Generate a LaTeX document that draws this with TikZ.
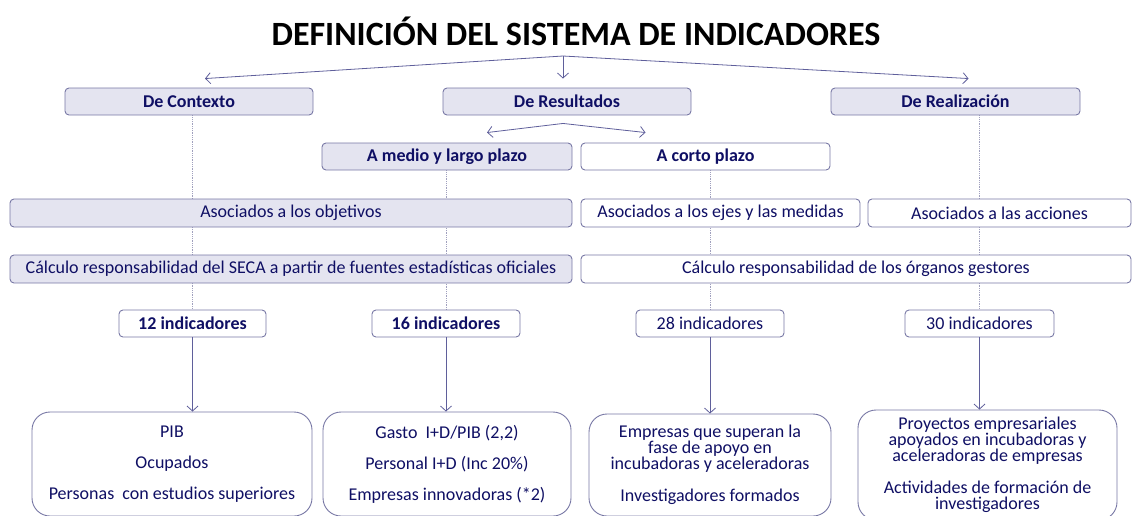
\documentclass[tikz,border=0pt]{standalone}
\usepackage{fontspec}
\setmainfont{Carlito}
\usepackage{tikz}
\usetikzlibrary{arrows.meta,positioning,calc,backgrounds}
\definecolor{navy}{RGB}{15,15,100}
\definecolor{boxline}{RGB}{120,120,165}
\definecolor{boxfill}{RGB}{228,228,240}
\definecolor{arrowblue}{RGB}{95,95,155}
\definecolor{dotgray}{RGB}{160,160,190}

\begin{document}
\begin{tikzpicture}[x=1pt,y=-1pt,
        box/.style={draw=boxline, line width=0.9pt, rounded corners=4pt, minimum height=27pt, inner sep=0pt, text=navy, font=\fontsize{18}{19}\selectfont},
        grey/.style={box, fill=boxfill},
        plain/.style={box, fill=white},
        heavy/.style={font=\fontsize{18}{19}\selectfont\bfseries},
        big/.style={draw=boxline, line width=0.9pt, rounded corners=18pt, fill=white, align=center, inner sep=0pt, text=navy, font=\fontsize{18}{16}\selectfont},
        arr/.style={-{Straight Barb[length=5pt,width=11pt]}, arrowblue, line width=0.8pt},
        link/.style={densely dotted, dotgray, line width=0.8pt}]
        \useasboundingbox (0,0) rectangle (1132,515);
        \node[font=\fontsize{34}{34}\selectfont\bfseries] (title) at (576,31) {DEFINICIÓN DEL SISTEMA DE INDICADORES};
        \node[grey, heavy, minimum width=248pt] (ctx) at (189,101.5) {De Contexto};
        \node[grey, heavy, minimum width=248pt] (res) at (567,101.5) {De Resultados};
        \node[grey, heavy, minimum width=249pt] (rea) at (955.5,101.5) {De Realización};
        \node[grey, heavy, minimum width=250pt] (medio) at (447,156.5) {A medio y largo plazo};
        \node[plain, heavy, minimum width=249pt] (corto) at (705.5,156.5) {A corto plazo};
        \node[grey, minimum width=562pt, minimum height=28pt] (objet) at (291,213) {Asociados a los objetivos};
        \node[plain, minimum width=279pt, minimum height=28pt] (ejes) at (720.5,213) {Asociados a los ejes y las medidas};
        \node[plain, minimum width=263pt, minimum height=28pt] (acc) at (999.5,213) {Asociados a las acciones};
        \node[grey, minimum width=562pt, minimum height=28pt] (seca) at (291,269) {Cálculo responsabilidad del SECA a partir de fuentes estadísticas oficiales};
        \node[plain, minimum width=550pt, minimum height=28pt] (gest) at (856,269) {Cálculo responsabilidad de los órganos gestores};
        \node[plain, heavy, minimum width=147pt] (n12) at (192.5,323.5) {12 indicadores};
        \node[plain, heavy, minimum width=148pt] (n16) at (446,323.5) {16 indicadores};
        \node[plain, minimum width=148pt] (n28) at (710,323.5) {28 indicadores};
        \node[plain, minimum width=149pt] (n30) at (979.5,323.5) {30 indicadores};
        \begin{scope}
            \clip (0,0) rectangle (1132,515);
            \node[big, minimum width=280pt, minimum height=104pt] (b1) at (172,464) {PIB\\[15pt]Ocupados\\[15pt]Personas~ con estudios superiores};
            \node[big, minimum width=248pt, minimum height=104pt] (b2) at (447,464) {Gasto~ I+D/PIB (2,2)\\[15pt]Personal I+D (Inc 20\%)\\[15pt]Empresas innovadoras (*2)};
            \node[big, minimum width=242pt, minimum height=102pt] (b3) at (710,465) {Empresas que superan la\\fase de apoyo en\\incubadoras y aceleradoras\\[16pt]Investigadores formados};
            \node[big, minimum width=259pt, minimum height=110pt] (b4) at (987.5,465) {Proyectos empresariales\\apoyados en incubadoras y\\aceleradoras de empresas\\[16pt]Actividades de formación de\\investigadores};
        \end{scope}
        \coordinate (top) at (563,56);
        \coordinate (sub) at ($(res.south)+(-4,8)$);
        \draw[arr] (top) -- ($(ctx.north)+(16,-9)$);
        \draw[arr] (top) -- ($(top |- res.north)+(0,-9)$);
        \draw[arr] (top) -- ($(rea.north)+(13,-9)$);
        \draw[arr] (sub) -- ($(medio.north)+(40,-10)$);
        \draw[arr] (sub) -- ($(corto.north)+(-60,-10)$);
        \begin{scope}[on background layer]
            \foreach \a/\b in {ctx/n12, medio/n16, corto/n28, rea/n30}
                \draw[link] (\a.south -| \b.north) -- (\b.north);
        \end{scope}
        \foreach \a/\b in {n12/b1, n16/b2, n28/b3, n30/b4}
            \draw[arr] (\a.south) -- (\a.south |- \b.north);
    \end{tikzpicture}
\end{document}
